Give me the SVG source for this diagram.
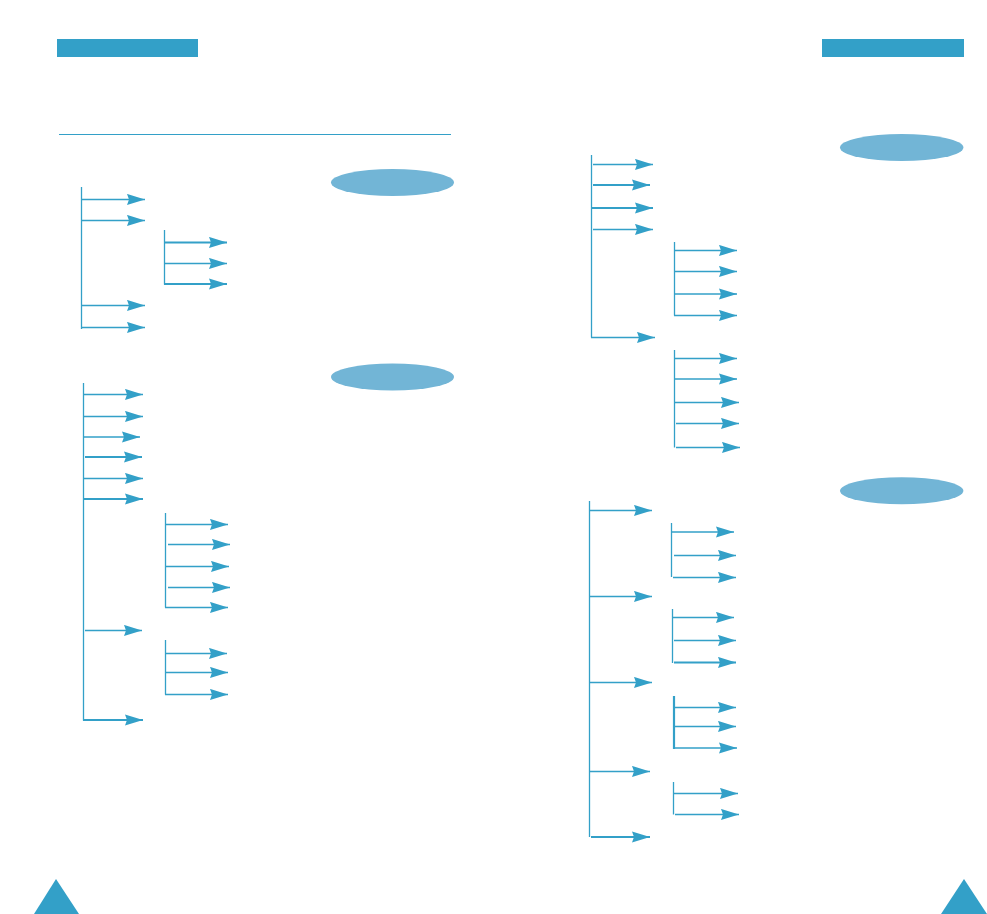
<svg xmlns="http://www.w3.org/2000/svg" width="987" height="914" viewBox="0 0 987 914">
<style>
.bar{fill:#33a0c8}
.oval{fill:#72b5d6}
.tri{fill:#33a0c8}
.rule{stroke:#33a0c8;stroke-width:1.2;fill:none}
.v{stroke:#33a0c8;stroke-width:1.3;fill:none}
.a{stroke:#33a0c8;stroke-width:1.3;fill:none;marker-end:url(#ah)}
.t{stroke-width:2.2}
</style>
<defs>
<marker id="ah" markerUnits="userSpaceOnUse" markerWidth="19" markerHeight="12" refX="18" refY="6" orient="auto" viewBox="0 0 19 12">
<path d="M0,0.4 L18,6 L0,11.6 L2,6 Z" fill="#33a0c8"/>
</marker>
</defs>
<rect width="987" height="914" fill="#ffffff"/>
<g id="header-left"><rect class="bar" x="57" y="39" width="141" height="18"/></g>
<g id="header-right"><rect class="bar" x="822" y="39" width="142" height="18"/></g>
<g id="rule"><line class="rule" x1="59" y1="134.5" x2="451" y2="134.5"/></g>
<g id="oval-1"><ellipse class="oval" cx="392.5" cy="182.5" rx="61.5" ry="13.5"/></g>
<g id="oval-2"><ellipse class="oval" cx="392.5" cy="377" rx="61.5" ry="13.5"/></g>
<g id="oval-3"><ellipse class="oval" cx="901.7" cy="147.5" rx="61.7" ry="13.5"/></g>
<g id="oval-4"><ellipse class="oval" cx="901.7" cy="490.8" rx="61.7" ry="13.5"/></g>
<g id="page-left"><polygon class="tri" points="56,879 34,914 79,914"/></g>
<g id="page-right"><polygon class="tri" points="964,879 941,914 987,914"/></g>
<g id="connectors">
<!-- tree 1 -->
<line class="v" x1="81.5" y1="187" x2="81.5" y2="329"/>
<line class="a" x1="82" y1="199.5" x2="145" y2="199.5"/>
<line class="a" x1="82" y1="220.5" x2="145" y2="220.5"/>
<line class="a" x1="82" y1="305.5" x2="145" y2="305.5"/>
<line class="a" x1="82" y1="327.5" x2="145" y2="327.5"/>
<line class="v" x1="164.5" y1="230" x2="164.5" y2="284.5"/>
<line class="a t" x1="164" y1="242.5" x2="227" y2="242.5"/>
<line class="a" x1="164" y1="263.5" x2="227" y2="263.5"/>
<line class="a t" x1="164" y1="284" x2="227" y2="284"/>
<!-- tree 2 -->
<line class="v" x1="83.5" y1="383" x2="83.5" y2="720.5"/>
<line class="a" x1="84" y1="394.5" x2="143" y2="394.5"/>
<line class="a" x1="84" y1="416.5" x2="143" y2="416.5"/>
<line class="a" x1="84" y1="437" x2="140" y2="437"/>
<line class="a t" x1="85" y1="457" x2="142" y2="457"/>
<line class="a" x1="84" y1="478.5" x2="143" y2="478.5"/>
<line class="a t" x1="84" y1="499" x2="143" y2="499"/>
<line class="a" x1="85" y1="630.5" x2="142" y2="630.5"/>
<line class="a t" x1="83" y1="720" x2="143" y2="720"/>
<line class="v" x1="165.5" y1="513" x2="165.5" y2="607.5"/>
<line class="a" x1="166" y1="524.5" x2="228" y2="524.5"/>
<line class="a" x1="168" y1="544.5" x2="230" y2="544.5"/>
<line class="a" x1="166" y1="566.5" x2="229" y2="566.5"/>
<line class="a" x1="168" y1="587.5" x2="230" y2="587.5"/>
<line class="a" x1="165" y1="607.5" x2="228" y2="607.5"/>
<line class="v" x1="165.5" y1="640" x2="165.5" y2="694.5"/>
<line class="a" x1="166" y1="653.5" x2="227" y2="653.5"/>
<line class="a" x1="166" y1="672.5" x2="228" y2="672.5"/>
<line class="a" x1="165" y1="694.5" x2="228" y2="694.5"/>
<!-- tree 3 -->
<line class="v" x1="591.5" y1="155" x2="591.5" y2="337.5"/>
<line class="a" x1="593" y1="164.5" x2="653" y2="164.5"/>
<line class="a t" x1="593" y1="185" x2="650" y2="185"/>
<line class="a t" x1="592" y1="208" x2="653" y2="208"/>
<line class="a" x1="593" y1="229.5" x2="653" y2="229.5"/>
<line class="a" x1="591" y1="337.5" x2="655" y2="337.5"/>
<line class="v" x1="674.5" y1="242" x2="674.5" y2="315.5"/>
<line class="a" x1="675" y1="250.5" x2="737" y2="250.5"/>
<line class="a" x1="675" y1="271.5" x2="737" y2="271.5"/>
<line class="a" x1="675" y1="294" x2="737" y2="294"/>
<line class="a" x1="674" y1="315.5" x2="737" y2="315.5"/>
<line class="v" x1="674.5" y1="350" x2="674.5" y2="447.5"/>
<line class="a" x1="675" y1="358.5" x2="737" y2="358.5"/>
<line class="a" x1="675" y1="379" x2="737" y2="379"/>
<line class="a" x1="675" y1="402.5" x2="739" y2="402.5"/>
<line class="a" x1="676" y1="423.5" x2="739" y2="423.5"/>
<line class="a" x1="676" y1="447.5" x2="740" y2="447.5"/>
<!-- tree 4 -->
<line class="v" x1="589.5" y1="501" x2="589.5" y2="837"/>
<line class="a" x1="590" y1="510.5" x2="652" y2="510.5"/>
<line class="a" x1="590" y1="596.5" x2="652" y2="596.5"/>
<line class="a" x1="590" y1="682.5" x2="652" y2="682.5"/>
<line class="a" x1="590" y1="771.5" x2="650" y2="771.5"/>
<line class="a t" x1="591" y1="837" x2="650" y2="837"/>
<line class="v" x1="671.5" y1="523" x2="671.5" y2="577"/>
<line class="a" x1="672" y1="532" x2="734" y2="532"/>
<line class="a" x1="674" y1="555.5" x2="736" y2="555.5"/>
<line class="a" x1="673" y1="577.5" x2="736" y2="577.5"/>
<line class="v" x1="672.5" y1="609" x2="672.5" y2="663"/>
<line class="a" x1="673" y1="617.5" x2="734" y2="617.5"/>
<line class="a" x1="674" y1="640.5" x2="736" y2="640.5"/>
<line class="a t" x1="674" y1="662.5" x2="736" y2="662.5"/>
<line class="v t" x1="674" y1="696" x2="674" y2="749"/>
<line class="a" x1="675" y1="707.5" x2="736" y2="707.5"/>
<line class="a" x1="675" y1="726.5" x2="736" y2="726.5"/>
<line class="a" x1="674" y1="748" x2="737" y2="748"/>
<line class="v" x1="673.5" y1="782" x2="673.5" y2="814.5"/>
<line class="a" x1="674" y1="793.5" x2="738" y2="793.5"/>
<line class="a" x1="675" y1="814.5" x2="739" y2="814.5"/>
</g>
</svg>
